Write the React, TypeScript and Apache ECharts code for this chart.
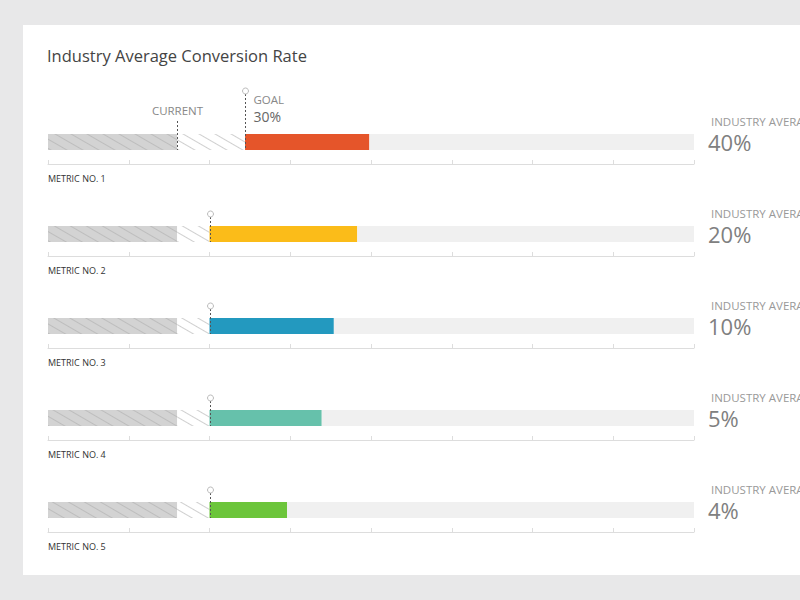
import React, { useEffect, useRef } from "react";
import * as echarts from "echarts";

const categories = ["METRIC NO. 1", "METRIC NO. 2", "METRIC NO. 3", "METRIC NO. 4", "METRIC NO. 5"];
const currentValues = [16, 16, 16, 16, 16];
const goalValues = [24.4, 20, 20, 20, 20];
const actualValues = [39.8, 38.3, 35.4, 33.9, 29.6];
const industryLabels = ["40%", "20%", "10%", "5%", "4%"];
const barColors = ["#e5552a", "#fbbc19", "#2399bf", "#66c1ab", "#6cc53b"];
const goalLabel = "30%";
const axisMin = 0;
const axisMax = 80;
const tickInterval = 10;

const FONT = '"Open Sans", "Noto Sans", sans-serif';
const ROW_TOP = 134;
const ROW_STEP = 92;
const BAR_H = 16;

function txt(text: string, x: number, y: number, size: number, fill: string, align = "left", extra: any = {}) {
  return {
    type: "text",
    z: 50,
    style: {
      text,
      x,
      y,
      font: `${size}px ${FONT}`,
      fill,
      align,
      textAlign: align,
      verticalAlign: "middle",
      textVerticalAlign: "middle",
      ...extra,
    },
  };
}

export default function App() {
  const ref = useRef<HTMLDivElement>(null);
  useEffect(() => {
    if (!ref.current) return;
    const chart = echarts.init(ref.current, null, { renderer: "svg" });
    const grids: any[] = [];
    const xAxes: any[] = [];
    const yAxes: any[] = [];
    const series: any[] = [];
    const graphics: any[] = [
      { type: "rect", z: -10, shape: { x: 23, y: 25, width: 800, height: 550 }, style: { fill: "#ffffff" } },
      txt("Industry Average Conversion Rate", 47, 55, 16.5, "#444444"),
    ];

    categories.forEach((cat, i) => {
      const top = ROW_TOP + i * ROW_STEP;
      grids.push({ left: 48, right: 106, top, height: BAR_H, containLabel: false });
      xAxes.push({
        type: "value",
        gridIndex: i,
        min: axisMin,
        max: axisMax,
        interval: tickInterval,
        offset: 14,
        axisLine: { show: true, lineStyle: { color: "#dddddd", width: 1 } },
        axisTick: { show: true, inside: true, length: 4, lineStyle: { color: "#dddddd" } },
        axisLabel: { show: false },
        splitLine: { show: false },
      });
      yAxes.push({
        type: "category",
        gridIndex: i,
        data: [cat],
        show: false,
      });
      const stack = "s" + i;
      const common = { type: "bar", xAxisIndex: i, yAxisIndex: i, stack, barWidth: BAR_H, silent: true };
      series.push({
        ...common,
        name: "current" + i,
        data: [currentValues[i]],
        itemStyle: {
          color: "#d3d3d3",
          decal: { symbol: "rect", symbolSize: 1, color: "#bdbdbd", dashArrayX: [1, 0], dashArrayY: [1, 7], rotation: Math.PI / 6 },
        },
      });
      series.push({
        ...common,
        name: "gap" + i,
        data: [goalValues[i] - currentValues[i]],
        itemStyle: {
          color: "#ffffff",
          decal: { symbol: "rect", symbolSize: 1, color: "#cfcfcf", dashArrayX: [1, 0], dashArrayY: [1, 7], rotation: Math.PI / 6 },
        },
      });
      series.push({
        ...common,
        name: "actual" + i,
        data: [actualValues[i] - goalValues[i]],
        itemStyle: { color: barColors[i] },
      });
      series.push({
        ...common,
        name: "rest" + i,
        data: [axisMax - actualValues[i]],
        itemStyle: { color: "#f0f0f0" },
      });
      const pinData: any[] = [[goalValues[i], 0, 0]];
      if (i === 0) pinData.push([currentValues[i], 0, 1]);
      series.push({
        type: "custom",
        xAxisIndex: i,
        yAxisIndex: i,
        clip: false,
        silent: true,
        z: 10,
        data: pinData,
        renderItem: (params: any, api: any) => {
          const kind = api.value(2);
          const p = api.coord([api.value(0), 0]);
          const x = Math.round(p[0]) + 0.5;
          const bottom = p[1] + BAR_H / 2;
          const children: any[] = [];
          if (kind === 0) {
            const cy = i === 0 ? p[1] - BAR_H / 2 - 43 : p[1] - BAR_H / 2 - 12;
            children.push({
              type: "line",
              shape: { x1: x, y1: cy + 3, x2: x, y2: bottom },
              style: { stroke: "#555555", lineWidth: 1, lineDash: [2, 2] },
            });
            children.push({
              type: "circle",
              shape: { cx: x, cy, r: 3 },
              style: { fill: "#ffffff", stroke: "#bbbbbb", lineWidth: 1 },
            });
            if (i === 0) {
              children.push(txt("GOAL", x + 8, cy + 8, 11.5, "#888888"));
              children.push(txt(goalLabel, x + 8, cy + 25, 14, "#666666"));
            }
          } else {
            const ty = p[1] - BAR_H / 2 - 13;
            children.push({
              type: "line",
              shape: { x1: x, y1: ty, x2: x, y2: bottom },
              style: { stroke: "#555555", lineWidth: 1, lineDash: [2, 2] },
            });
            children.push(txt("CURRENT", x, ty - 11, 11.5, "#888888", "center"));
          }
          return { type: "group", children };
        },
      });
      graphics.push(txt(cat, 48, top + 44, 9, "#333333"));
      graphics.push(txt("INDUSTRY AVERAGE", 711, top - 13, 11.5, "#999999"));
      graphics.push(txt(industryLabels[i], 708, top + 8, 22, "#808080"));
    });

    chart.setOption({
      animation: false,
      backgroundColor: "#e8e8e9",
      grid: grids,
      xAxis: xAxes,
      yAxis: yAxes,
      series,
      graphic: graphics,
    });
    return () => chart.dispose();
  }, []);
  return (
    <div
      ref={ref}
      style={{ position: "fixed", left: 0, top: 0, width: 800, height: 600 }}
    />
  );
}
